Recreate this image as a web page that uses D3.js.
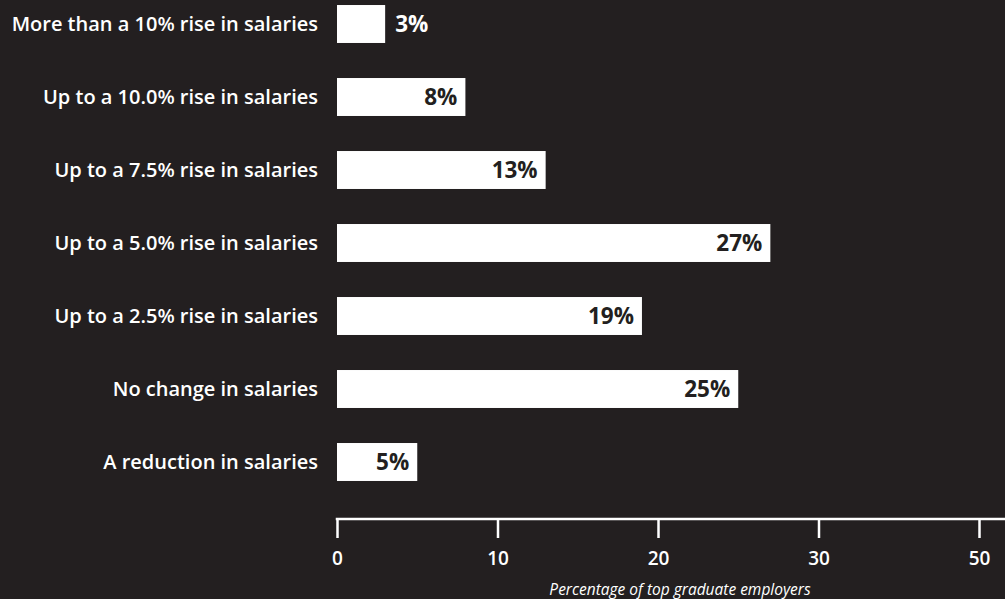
<!DOCTYPE html>
<html>
<head>
<meta charset="utf-8">
<script src="https://cdn.jsdelivr.net/npm/d3@7"></script>
<style>
  html, body { margin: 0; padding: 0; background: #231f20; }
  svg { display: block; }
</style>
</head>
<body>
<svg id="chart" width="1005" height="599"></svg>
<script>
// Expected change in graduate starting salaries
const categories = [
  "More than a 10% rise in salaries",
  "Up to a 10.0% rise in salaries",
  "Up to a 7.5% rise in salaries",
  "Up to a 5.0% rise in salaries",
  "Up to a 2.5% rise in salaries",
  "No change in salaries",
  "A reduction in salaries"
];
const values = [3, 8, 13, 27, 19, 25, 5];
const tickValues = [0, 10, 20, 30, 40];
const tickLabels = ["0", "10", "20", "30", "50"];
const axisTitle = "Percentage of top graduate employers";

const W = 1005, H = 599;
const bg = "#231f20";
const font = "'Open Sans', 'DejaVu Sans', sans-serif";

const svg = d3.select("#chart");
svg.append("rect").attr("width", W).attr("height", H).attr("fill", bg);

const x = d3.scaleLinear().domain([0, 40]).range([337, 979]);
const y = d3.scaleBand()
  .domain(categories)
  .range([-12.5, 498.5])
  .paddingInner(0.48)
  .paddingOuter(0.24);

const rows = categories.map((c, i) => ({ cat: c, v: values[i] }));

// Bars
svg.append("g").selectAll("rect")
  .data(rows)
  .join("rect")
  .attr("x", x(0))
  .attr("y", d => y(d.cat))
  .attr("width", d => x(d.v) - x(0))
  .attr("height", y.bandwidth())
  .attr("fill", "#ffffff");

// Category labels
svg.append("g").selectAll("text")
  .data(rows)
  .join("text")
  .attr("x", 318)
  .attr("y", d => y(d.cat) + y.bandwidth() / 2)
  .attr("dy", "0.36em")
  .attr("text-anchor", "end")
  .attr("fill", "#ffffff")
  .style("font-family", font)
  .style("font-weight", 600)
  .style("font-size", "20px")
  .text(d => d.cat);

// Value labels: inside the bar end, or just past a short bar
svg.append("g").selectAll("text")
  .data(rows)
  .join("text")
  .attr("x", d => d.v < 4 ? x(d.v) + 10 : x(d.v) - 8)
  .attr("y", d => y(d.cat) + y.bandwidth() / 2)
  .attr("dy", "0.37em")
  .attr("text-anchor", d => d.v < 4 ? "start" : "end")
  .attr("fill", d => d.v < 4 ? "#ffffff" : bg)
  .style("font-family", font)
  .style("font-weight", 700)
  .style("font-size", "22.5px")
  .text(d => d.v + "%");

// Axis
const axisY = 519;
const axis = d3.axisBottom(x)
  .tickValues(tickValues)
  .tickFormat((d, i) => tickLabels[i])
  .tickSize(19)
  .tickSizeOuter(0)
  .tickPadding(14);

const gAxis = svg.append("g")
  .attr("transform", `translate(0,${axisY})`)
  .call(axis);

gAxis.select(".domain").remove();
gAxis.append("line")
  .attr("x1", x(0) - 1.25)
  .attr("x2", W)
  .attr("stroke", "#ffffff")
  .attr("stroke-width", 2.5);
gAxis.selectAll(".tick line")
  .attr("stroke", "#ffffff")
  .attr("stroke-width", 2.5);
gAxis.selectAll(".tick text")
  .attr("fill", "#ffffff")
  .style("font-family", font)
  .style("font-weight", 600)
  .style("font-size", "19px");

svg.append("text")
  .attr("x", 680)
  .attr("y", 595)
  .attr("text-anchor", "middle")
  .attr("fill", "#ffffff")
  .style("font-family", font)
  .style("font-style", "italic")
  .style("font-size", "15.5px")
  .text(axisTitle);
</script>
</body>
</html>
